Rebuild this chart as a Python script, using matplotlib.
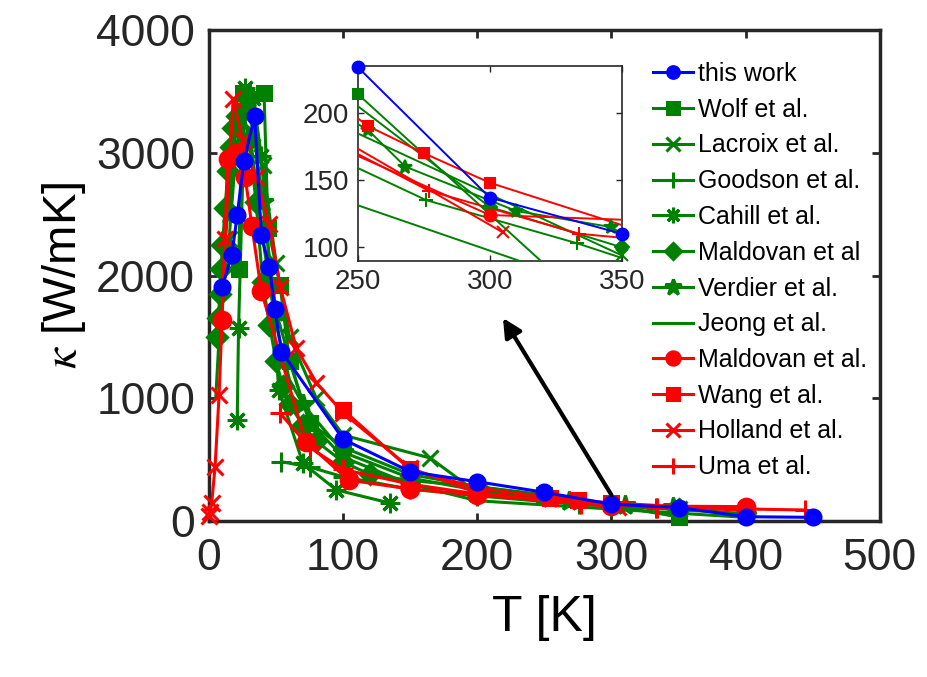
import numpy as np
import matplotlib
matplotlib.use("Agg")
import matplotlib.pyplot as plt

plt.rcParams.update({
    "font.family": ["Liberation Sans", "DejaVu Sans"],
    "mathtext.fontset": "stix",
})

GREEN = "#008000"
RED = "#FF0000"
BLUE = "#0000FF"
ASTER = (8, 2, 0)

# ---- data ----
t_this = [10, 17, 21, 26, 34, 39, 45, 49, 54, 100, 150, 200, 250, 300, 350, 400, 450]
k_this = [1910, 2170, 2490, 2930, 3300, 2330, 2070, 1730, 1380, 666, 402, 320, 234, 137, 110, 35, 30]

t_wolf = [22, 25, 41, 44, 53, 60, 75, 100, 150, 200, 250, 350]
k_wolf = [2050, 3490, 3490, 2390, 1920, 1300, 800, 600, 380, 280, 214, 35]

t_lacroix = [15, 20, 25, 30, 40, 50, 60, 80, 100, 165, 200, 350]
k_lacroix = [2300, 3000, 3350, 3300, 2900, 2100, 1500, 1000, 700, 513, 230, 94]

t_goodson = [54, 75, 100, 150, 200, 276, 333, 400]
k_goodson = [483, 440, 360, 260, 205, 135, 103, 60]

t_cahill = [21, 22, 27, 33, 39, 52, 70, 95, 135]
k_cahill = [820, 1570, 3530, 3450, 2970, 1070, 470, 253, 146]

t_mald_g = [6, 7, 8, 9, 10, 12, 14, 16, 18, 21, 25, 30, 35, 40, 45, 50, 55, 60, 70, 80, 100, 120, 150, 200, 300, 350]
k_mald_g = [1500, 1650, 1850, 2050, 2250, 2550, 2850, 3050, 3200, 3300, 3350, 3100, 2600, 1950, 1600,
            1300, 1100, 950, 780, 650, 480, 380, 330, 280, 130, 100]

t_verdier = [15, 20, 30, 40, 50, 70, 100, 150, 200, 254, 268, 310, 346, 400]
k_verdier = [2500, 3200, 3450, 2600, 1700, 950, 560, 350, 250, 187, 160, 127, 115, 50]

t_jeong = [5, 10, 20, 30, 40, 50, 60, 80, 100, 150, 200, 400]
k_jeong = [1000, 2000, 3300, 3200, 2300, 1600, 1150, 750, 520, 300, 165, 30]

t_mald_r = [9.5, 14, 20, 27, 32, 39, 72, 104, 150, 200, 300, 400]
k_mald_r = [1640, 2950, 3000, 2800, 2400, 1870, 646, 334, 260, 212, 124, 117]

t_wang = [100, 150, 200, 254, 275, 300, 400]
k_wang = [905, 420, 270, 190, 170, 148, 85]

t_holland = [0, 1, 2, 4.5, 7.5, 12, 18, 25, 35, 45, 53, 65, 80, 100, 150, 200, 305]
k_holland = [40, 76, 147, 443, 1027, 2300, 3440, 3100, 2800, 2420, 1910, 1410, 1127, 880, 430, 230, 111]

t_uma = [53, 75, 100, 150, 200, 277, 334, 444]
k_uma = [878, 600, 420, 300, 220, 142, 110, 90]

series = [
    ("Wolf et al.", t_wolf, k_wolf, GREEN, "s"),
    ("Lacroix et al.", t_lacroix, k_lacroix, GREEN, "x"),
    ("Goodson et al.", t_goodson, k_goodson, GREEN, "+"),
    ("Cahill et al.", t_cahill, k_cahill, GREEN, ASTER),
    ("Maldovan et al", t_mald_g, k_mald_g, GREEN, "D"),
    ("Verdier et al.", t_verdier, k_verdier, GREEN, "*"),
    ("Jeong et al.", t_jeong, k_jeong, GREEN, None),
    ("Maldovan et al.", t_mald_r, k_mald_r, RED, "o"),
    ("Wang et al.", t_wang, k_wang, RED, "s"),
    ("Holland et al.", t_holland, k_holland, RED, "x"),
    ("Uma et al.", t_uma, k_uma, RED, "+"),
]

MS = {"s": 10, "x": 12, "+": 14, ASTER: 14, "D": 10, "*": 15, "o": 12, None: 0}
MS_IN = {"s": 7, "x": 9, "+": 10, ASTER: 10, "D": 7, "*": 10, "o": 8.5, None: 0}

fig = plt.figure(figsize=(9.27, 6.77), dpi=100)
ax = fig.add_axes([0.2255, 0.2304, 0.7235, 0.7253])

handles = {}
for lab, t, k, col, mk in series:
    h, = ax.plot(t, k, color=col, lw=2.2, marker=mk, ms=MS[mk], mew=2.2,
                 mfc=col, mec=col, clip_on=False, zorder=3)
    handles[lab] = h
h_this, = ax.plot(t_this, k_this, color=BLUE, lw=2.2, marker="o", ms=12,
                  mfc=BLUE, mec=BLUE, clip_on=False, zorder=4)

ax.set_xlim(0, 500)
ax.set_ylim(0, 4000)
ax.set_xticks([0, 100, 200, 300, 400, 500])
ax.set_yticks([0, 1000, 2000, 3000, 4000])
ax.tick_params(direction="in", length=6, width=2, labelsize=32, pad=12,
               top=True, right=True, colors="#262626")
ax.tick_params(axis="y", pad=10)
for s in ax.spines.values():
    s.set_linewidth(2.5)
    s.set_color("#262626")
ax.set_xlabel("T [K]", fontsize=36, labelpad=12)
ax.set_ylabel(r"$\kappa$ [W/mK]", fontsize=34, labelpad=6)

# arrow from the 300 K region up to the inset
ax.annotate("", xy=(503 / 927, 1 - 318 / 677), xycoords="figure fraction",
            xytext=(300, 212), textcoords="data",
            arrowprops=dict(arrowstyle="-|>", lw=3, color="black",
                            mutation_scale=28, shrinkA=0, shrinkB=0), zorder=5)

labels = ["this work"] + [s[0] for s in series]
hs = [h_this] + [handles[s[0]] for s in series]
fig.legend(hs, labels, loc="upper left", bbox_to_anchor=(653 / 927, 1 - 62 / 677),
           frameon=False, fontsize=18, handlelength=1.6, handletextpad=0.2,
           labelspacing=0.47, borderpad=0, borderaxespad=0, markerscale=0.8)

# ---- inset ----
axi = fig.add_axes([0.3859, 0.6149, 0.2848, 0.288])
xl, yl = (250, 350), (90, 235)
for lab, t, k, col, mk in series + [("this work", t_this, k_this, BLUE, "o")]:
    z = 4 if col == BLUE else 3
    axi.plot(t, k, color=col, lw=1.4, zorder=z)
    if mk is None:
        continue
    t_a, k_a = np.array(t, float), np.array(k, float)
    m = (t_a >= xl[0]) & (t_a <= xl[1]) & (k_a >= yl[0] - 2) & (k_a <= yl[1] + 2)
    axi.plot(t_a[m], k_a[m], ls="none", marker=mk, ms=MS_IN[mk], mew=1.5,
             mfc=col, mec=col, clip_on=False, zorder=z + 1)
axi.set_xlim(*xl)
axi.set_ylim(*yl)
axi.set_xticks([250, 300, 350])
axi.set_yticks([100, 150, 200])
axi.tick_params(direction="in", length=4, width=1, labelsize=20, pad=6,
                top=True, right=True, colors="#262626")
for s in axi.spines.values():
    s.set_linewidth(1.2)
    s.set_color("#262626")

fig.savefig("out.png", dpi=100)
